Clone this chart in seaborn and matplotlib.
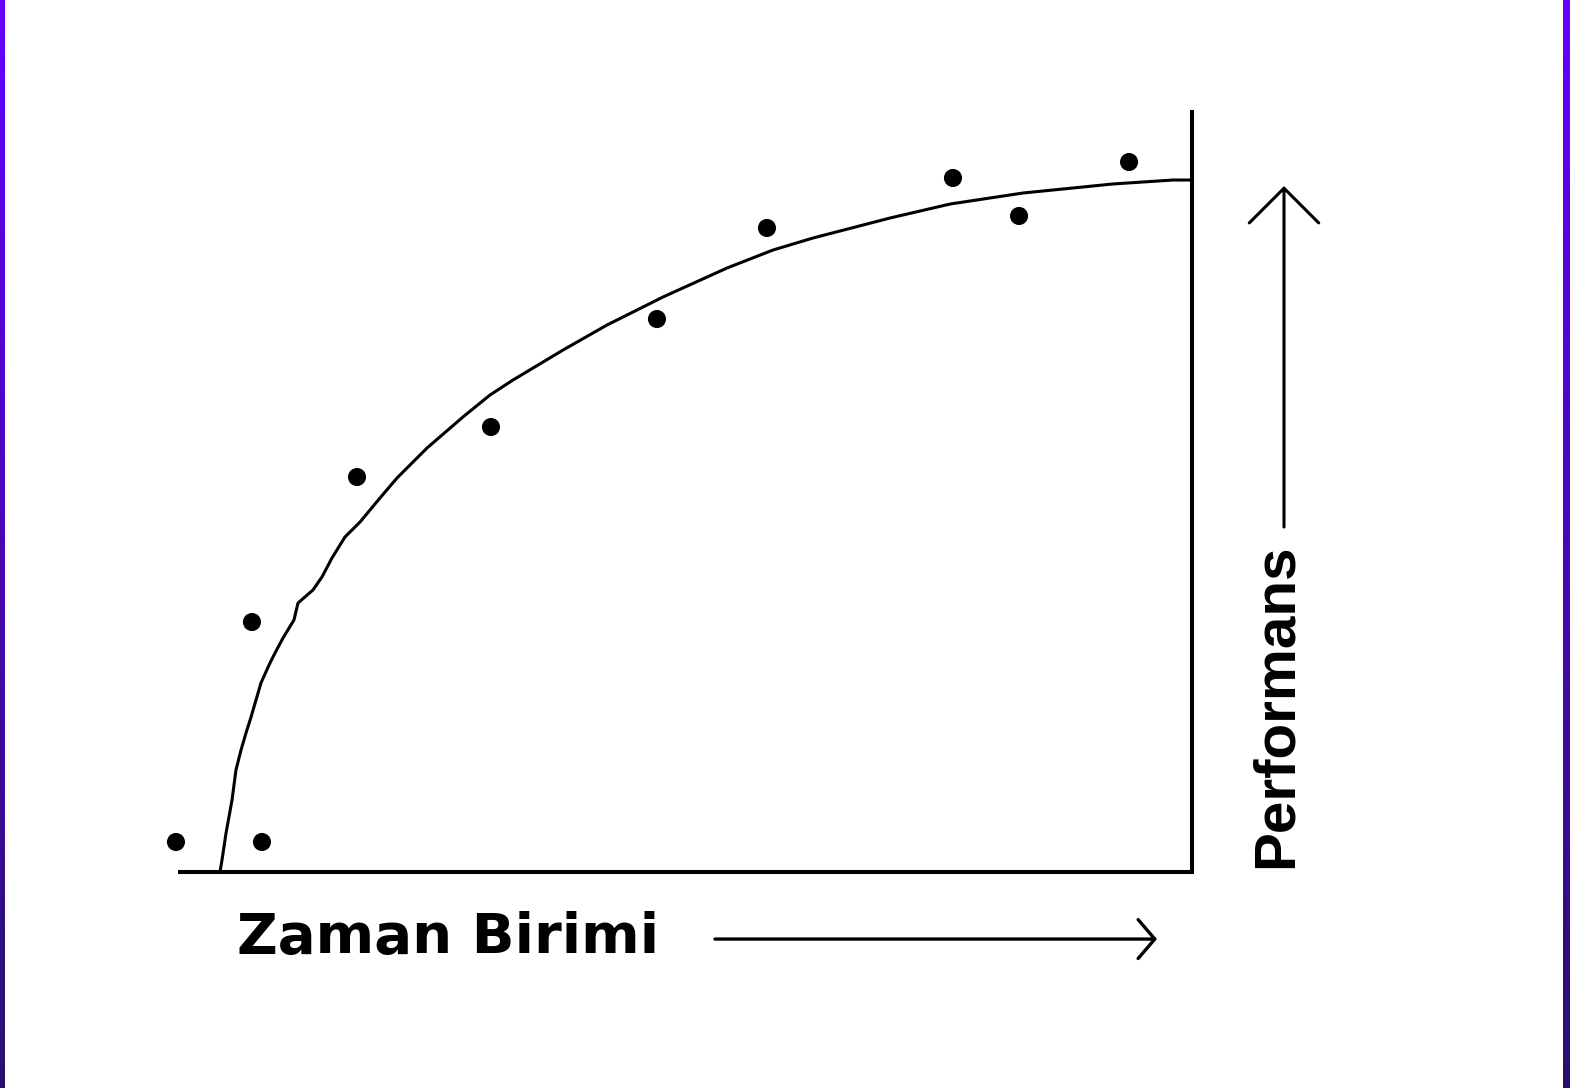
import numpy as np
import pandas as pd
import matplotlib.pyplot as plt
import seaborn as sns

# fitted learning curve (time unit vs performance)
curve_x = [0.395, 0.415, 0.455, 0.514, 0.553, 0.603, 0.652, 0.702, 0.751, 0.800,
           0.889, 0.939, 1.018, 1.126, 1.166, 1.314, 1.403, 1.502, 1.630, 1.779,
           1.976, 2.144, 2.441, 2.796, 3.063, 3.291, 3.785, 4.219, 4.773, 5.405,
           5.860, 6.255, 7.016, 7.609, 8.330, 9.219, 9.812, 10.0]
curve_y = [0.0, 0.158, 0.513, 0.947, 1.342, 1.605, 1.829, 2.039, 2.263, 2.487,
           2.750, 2.882, 3.079, 3.316, 3.539, 3.711, 3.882, 4.132, 4.408, 4.605,
           4.921, 5.184, 5.579, 5.987, 6.276, 6.474, 6.868, 7.197, 7.566, 7.947,
           8.184, 8.342, 8.605, 8.789, 8.934, 9.053, 9.105, 9.105]

# observed points
obs_x = [-0.04, 0.81, 0.711, 1.749, 3.073, 4.713, 5.80, 7.638, 8.291, 9.378]
obs_y = [0.395, 0.395, 3.289, 5.197, 5.855, 7.276, 8.474, 9.132, 8.632, 9.342]

x_label = 'Zaman Birimi'
y_label = 'Performans'

curve = pd.DataFrame({'t': curve_x, 'p': curve_y})
obs = pd.DataFrame({'t': obs_x, 'p': obs_y})

sns.set_style('white')
fig = plt.figure(figsize=(15.7, 10.88), dpi=100)
ax = fig.add_axes([180 / 1570, 216 / 1088, 1012 / 1570, 760 / 1088])

sns.lineplot(data=curve, x='t', y='p', sort=False, color='black', lw=2.2, ax=ax)
sns.scatterplot(data=obs, x='t', y='p', color='black', s=170, marker='o',
                edgecolor='none', clip_on=False, ax=ax)

ax.set_xlim(0, 10)
ax.set_ylim(0, 10)
ax.set_xticks([])
ax.set_yticks([])
ax.set_xlabel('')
ax.set_ylabel('')
for side in ['left', 'top']:
    ax.spines[side].set_visible(False)
for side in ['bottom', 'right']:
    ax.spines[side].set_color('black')
    ax.spines[side].set_linewidth(2.9)

# axis captions with arrows
fig.text(237 / 1570, 135 / 1088, x_label, fontsize=40.5, fontweight='bold',
         color='black', ha='left', va='baseline', family=['DejaVu Sans'])
fig.text(1277 / 1570, 0.351, y_label, fontsize=42, fontweight='bold', rotation=90,
         color='black', ha='center', va='center', family=['Liberation Sans'])

ax.annotate('', xy=(1157 / 1570, 0.1369), xytext=(715 / 1570, 0.1369),
            xycoords='figure fraction', textcoords='figure fraction',
            arrowprops=dict(arrowstyle='->, head_length=0.6, head_width=0.7',
                            mutation_scale=20, lw=2.4, color='black',
                            shrinkA=0, shrinkB=0))
ax.annotate('', xy=(1284 / 1570, 0.8290), xytext=(1284 / 1570, 0.5156),
            xycoords='figure fraction', textcoords='figure fraction',
            arrowprops=dict(arrowstyle='->, head_length=1.25, head_width=1.25',
                            mutation_scale=20, lw=2.2, color='black',
                            shrinkA=0, shrinkB=0))

# purple side borders
grad = np.linspace(0, 1, 256).reshape(-1, 1)
top = np.array([102, 0, 255]) / 255
bottom = np.array([42, 16, 110]) / 255
img = top[None, None, :] * (1 - grad[:, :, None]) + bottom[None, None, :] * grad[:, :, None]
for left, width in [(0, 5), (1563, 7)]:
    bax = fig.add_axes([left / 1570, 0, width / 1570, 1])
    bax.imshow(img, aspect='auto', interpolation='bilinear')
    bax.axis('off')

fig.savefig('out.png', dpi=100, facecolor='white')
